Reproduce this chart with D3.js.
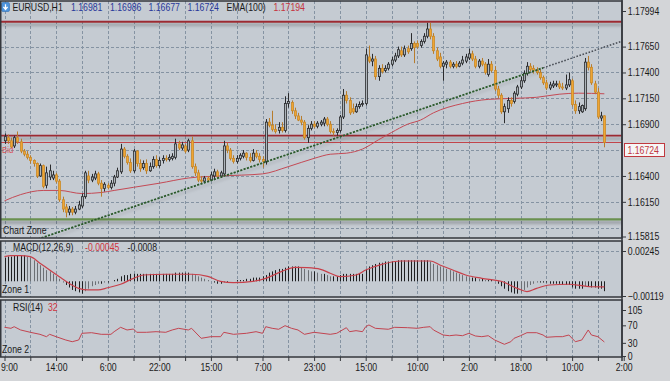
<!DOCTYPE html>
<html><head><meta charset="utf-8">
<script src="https://cdn.jsdelivr.net/npm/d3@7"></script>
<style>html,body{margin:0;padding:0;background:#d3d5d8;}svg{display:block;}</style>
</head><body><svg id="c" width="670" height="381"></svg>
<script>
// ---------- DATA ----------
const opens = [1.1674,1.1677,1.1674,1.1669,1.1677,1.1673,1.1664,1.1661,1.1658,1.1655,
1.1652,1.1640,1.1650,1.1631,1.1639,1.1638,1.1641,1.1635,1.1617,1.1610,
1.1605,1.1608,1.1605,1.1608,1.1611,1.1620,1.1640,1.1636,1.1638,1.1642,
1.1633,1.1628,1.1631,1.1629,1.1633,1.1639,1.1644,1.1666,1.1659,1.1653,
1.1645,1.1664,1.1652,1.1648,1.1652,1.1645,1.1649,1.1656,1.1650,1.1655,
1.1657,1.1656,1.1657,1.1658,1.1671,1.1667,1.1669,1.1665,1.1674,1.1649,
1.1643,1.1636,1.1635,1.1638,1.1636,1.1640,1.1644,1.1640,1.1642,1.1669,
1.1665,1.1657,1.1654,1.1657,1.1659,1.1662,1.1658,1.1655,1.1662,1.1659,
1.1656,1.1654,1.1692,1.1689,1.1685,1.1684,1.1687,1.1684,1.1710,1.1711,
1.1703,1.1698,1.1694,1.1692,1.1677,1.1686,1.1690,1.1688,1.1690,1.1691,
1.1695,1.1690,1.1683,1.1682,1.1684,1.1697,1.1718,1.1713,1.1705,1.1702,
1.1707,1.1709,1.1710,1.1755,1.1751,1.1753,1.1736,1.1744,1.1742,1.1744,
1.1748,1.1752,1.1756,1.1761,1.1757,1.1763,1.1763,1.1768,1.1768,1.1766,
1.1770,1.1775,1.1782,1.1775,1.1761,1.1755,1.1746,1.1748,1.1750,1.1746,
1.1748,1.1746,1.1749,1.1751,1.1754,1.1758,1.1753,1.1746,1.1751,1.1748,
1.1738,1.1748,1.1742,1.1724,1.1718,1.1702,1.1705,1.1713,1.1712,1.1719,
1.1726,1.1732,1.1739,1.1746,1.1744,1.1742,1.1740,1.1735,1.1730,1.1725,
1.1727,1.1728,1.1729,1.1726,1.1725,1.1728,1.1732,1.1709,1.1703,1.1702,
1.1705,1.1750,1.1745,1.1729,1.1721,1.1696,1.16981];
const highs = [1.1681,1.1680,1.1677,1.1679,1.1683,1.1676,1.1666,1.1664,1.1660,1.1656,
1.1653,1.1652,1.1651,1.1649,1.1651,1.1645,1.1643,1.1637,1.1620,1.1613,
1.1611,1.1610,1.1611,1.1616,1.1623,1.1645,1.1645,1.1642,1.1645,1.1644,
1.1636,1.1634,1.1633,1.1636,1.1641,1.1648,1.1671,1.1668,1.1661,1.1657,
1.1666,1.1665,1.1656,1.1655,1.1656,1.1653,1.1659,1.1660,1.1658,1.1660,
1.1660,1.1661,1.1662,1.1676,1.1674,1.1673,1.1671,1.1676,1.1678,1.1652,
1.1646,1.1640,1.1640,1.1640,1.1644,1.1647,1.1646,1.1645,1.1674,1.1672,
1.1667,1.1660,1.1660,1.1662,1.1665,1.1663,1.1662,1.1666,1.1665,1.1662,
1.1659,1.1695,1.1696,1.1703,1.1690,1.1692,1.1692,1.1717,1.1720,1.1713,
1.1706,1.1701,1.1698,1.1694,1.1689,1.1693,1.1693,1.1693,1.1694,1.1697,
1.1697,1.1693,1.1686,1.1686,1.1699,1.1724,1.1722,1.1716,1.1710,1.1710,
1.1712,1.1713,1.1763,1.1766,1.1758,1.1756,1.1747,1.1748,1.1747,1.1750,
1.1755,1.1759,1.1765,1.1765,1.1766,1.1766,1.1778,1.1770,1.1771,1.1772,
1.1778,1.1788,1.1788,1.1778,1.1764,1.1759,1.1751,1.1752,1.1752,1.1750,
1.1751,1.1751,1.1756,1.1758,1.1763,1.1761,1.1756,1.1753,1.1754,1.1750,
1.1753,1.1751,1.1746,1.1727,1.1720,1.1710,1.1716,1.1716,1.1722,1.1728,
1.1736,1.1742,1.1750,1.1749,1.1747,1.1745,1.1743,1.1737,1.1733,1.1731,
1.1732,1.1732,1.1732,1.1730,1.1738,1.1740,1.1734,1.1713,1.1711,1.1709,
1.1754,1.1756,1.1748,1.1732,1.1725,1.1702,1.16986];
const lows = [1.1671,1.1671,1.1667,1.1667,1.1671,1.1662,1.1659,1.1656,1.1652,1.1649,
1.1638,1.1639,1.1628,1.1628,1.1636,1.1636,1.1633,1.1615,1.1605,1.1600,
1.1602,1.1602,1.1603,1.1607,1.1609,1.1618,1.1633,1.1634,1.1636,1.1631,
1.1620,1.1625,1.1627,1.1627,1.1630,1.1638,1.1642,1.1657,1.1651,1.1643,
1.1643,1.1649,1.1644,1.1646,1.1642,1.1644,1.1647,1.1648,1.1648,1.1652,
1.1654,1.1654,1.1655,1.1656,1.1665,1.1665,1.1662,1.1663,1.1647,1.1640,
1.1634,1.1633,1.1633,1.1634,1.1636,1.1637,1.1638,1.1638,1.1640,1.1662,
1.1655,1.1652,1.1652,1.1655,1.1657,1.1655,1.1653,1.1654,1.1657,1.1653,
1.1648,1.1651,1.1687,1.1683,1.1681,1.1681,1.1682,1.1682,1.1706,1.1700,
1.1695,1.1693,1.1689,1.1675,1.1672,1.1684,1.1686,1.1686,1.1688,1.1688,
1.1688,1.1681,1.1679,1.1679,1.1682,1.1695,1.1710,1.1699,1.1700,1.1701,
1.1705,1.1707,1.1708,1.1749,1.1746,1.1733,1.1732,1.1739,1.1740,1.1742,
1.1746,1.1750,1.1754,1.1755,1.1755,1.1758,1.1761,1.1749,1.1763,1.1764,
1.1768,1.1773,1.1772,1.1758,1.1751,1.1744,1.1732,1.1744,1.1744,1.1744,
1.1744,1.1745,1.1747,1.1749,1.1752,1.1751,1.1744,1.1744,1.1746,1.1738,
1.1736,1.1740,1.1722,1.1715,1.1700,1.1691,1.1701,1.1707,1.1710,1.1717,
1.1724,1.1730,1.1737,1.1741,1.1739,1.1738,1.1733,1.1728,1.1723,1.1723,
1.1725,1.1726,1.1724,1.1723,1.1723,1.1726,1.1707,1.1700,1.1700,1.1701,
1.1703,1.1742,1.1728,1.1719,1.1695,1.1693,1.16677];
const closes = [1.1678,1.1674,1.1668,1.1677,1.1673,1.1664,1.1661,1.1658,1.1655,1.1652,
1.1640,1.1650,1.1630,1.1643,1.1645,1.1641,1.1635,1.1617,1.1608,1.1605,
1.1608,1.1605,1.1608,1.1612,1.1620,1.1643,1.1636,1.1639,1.1642,1.1633,
1.1628,1.1632,1.1629,1.1633,1.1639,1.1645,1.1666,1.1659,1.1653,1.1645,
1.1664,1.1652,1.1647,1.1652,1.1645,1.1649,1.1656,1.1650,1.1655,1.1657,
1.1656,1.1658,1.1659,1.1671,1.1667,1.1670,1.1664,1.1674,1.1649,1.1643,
1.1636,1.1635,1.1638,1.1636,1.1641,1.1644,1.1640,1.1643,1.1669,1.1665,
1.1657,1.1654,1.1657,1.1660,1.1662,1.1658,1.1655,1.1662,1.1659,1.1656,
1.1654,1.1692,1.1689,1.1685,1.1683,1.1687,1.1684,1.1710,1.1712,1.1703,
1.1698,1.1694,1.1692,1.1677,1.1686,1.1690,1.1688,1.1691,1.1692,1.1695,
1.1690,1.1683,1.1682,1.1684,1.1697,1.1718,1.1713,1.1701,1.1702,1.1707,
1.1709,1.1710,1.1757,1.1751,1.1753,1.1736,1.1744,1.1741,1.1744,1.1748,
1.1752,1.1756,1.1762,1.1757,1.1763,1.1760,1.1768,1.1764,1.1765,1.1770,
1.1775,1.1782,1.1775,1.1761,1.1753,1.1746,1.1749,1.1750,1.1746,1.1748,
1.1746,1.1749,1.1752,1.1755,1.1758,1.1753,1.1746,1.1751,1.1748,1.1740,
1.1748,1.1742,1.1724,1.1718,1.1702,1.1707,1.1713,1.1710,1.1720,1.1726,
1.1732,1.1739,1.1746,1.1743,1.1742,1.1740,1.1735,1.1730,1.1725,1.1728,
1.1729,1.1729,1.1726,1.1725,1.1728,1.1733,1.1709,1.1703,1.1707,1.1708,
1.1750,1.1745,1.1730,1.1721,1.1697,1.1698,1.16724];

// EMA(100) readings: [bar index, value]
const emaPoints = [[0,1.1616],[5,1.1622],[12,1.1626],[17,1.1626],[24,1.1623],[30,1.1624],[34,1.1626],[40,1.1629],[48,1.1633],[57,1.1638],[67,1.1640],[80,1.1642],[88,1.1649],[96,1.1657],[101,1.1661],[106,1.1662],[111,1.1666],[116,1.1675],[120,1.1682],[125,1.1690],[129,1.1694],[133,1.1701],[142,1.1710],[150,1.1714],[158,1.1715],[165,1.1716],[172,1.1719],[178,1.1720],[186,1.17194]];

const macdHist = [0.0019,0.0020,0.0020,0.0021,0.0021,0.0021,0.0021,0.0020,0.0019,0.0017,
0.0015,0.0013,0.0011,0.0009,0.0008,0.0006,0.0004,0.0002,-0.0001,-0.0003,
-0.0005,-0.0007,-0.0008,-0.0009,-0.0010,-0.0008,-0.0006,-0.0004,-0.0003,-0.0002,
-0.0002,-0.0001,-0.0001,0.0000,0.0001,0.0002,0.0004,0.0005,0.0005,0.0006,
0.0006,0.0006,0.0006,0.0006,0.0006,0.0006,0.0006,0.0006,0.0006,0.0006,
0.0006,0.0006,0.0006,0.0007,0.0007,0.0007,0.0007,0.0007,0.0006,0.0005,
0.0004,0.0003,0.0002,0.0001,0.0000,-0.0001,-0.0002,-0.0002,-0.0001,-0.0001,
0.0000,0.0000,0.0001,0.0001,0.0001,0.0002,0.0002,0.0003,0.0003,0.0003,
0.0004,0.0005,0.0007,0.0008,0.0009,0.0010,0.0010,0.0011,0.0012,0.0012,
0.0012,0.0012,0.0011,0.0010,0.0009,0.0008,0.0008,0.0007,0.0006,0.0006,
0.0005,0.0004,0.0004,0.0004,0.0005,0.0006,0.0006,0.0006,0.0006,0.0006,
0.0006,0.0006,0.0010,0.0012,0.0013,0.0014,0.0015,0.0015,0.0016,0.0016,
0.0016,0.0016,0.0017,0.0017,0.0017,0.0017,0.0017,0.0017,0.0017,0.0017,
0.0017,0.0017,0.0016,0.0014,0.0013,0.0012,0.0011,0.0010,0.0009,0.0008,
0.0007,0.0006,0.0005,0.0004,0.0003,0.0003,0.0003,0.0002,0.0002,0.0001,
0.0001,0.0001,0.0000,-0.0002,-0.0004,-0.0006,-0.0008,-0.0009,-0.0010,-0.0010,
-0.0009,-0.0007,-0.0005,-0.0003,-0.0002,-0.0001,-0.0001,-0.0001,-0.0001,-0.0002,
-0.0002,-0.0002,-0.0002,-0.0003,-0.0003,-0.0003,-0.0005,-0.0006,-0.0006,-0.0006,
-0.0004,-0.0004,-0.0005,-0.0005,-0.0006,-0.0006,-0.0008];
const macdSignal = [[0,0.0020],[2,0.00207],[5,0.00207],[8,0.0020],[11,0.00146],[14,0.00091],[17,0.00037],[20,-0.00016],[23,-0.00057],[26,-0.0007],[29,-0.0007],[32,-0.00052],[36,-0.00024],[40,0.00024],[43,0.00051],[50,0.00057],[58,0.00057],[63,0.0004],[67,0],[71,-0.0001],[77,0],[81,0.00024],[86,0.0008],[90,0.00113],[94,0.0011],[98,0.00097],[101,0.00065],[104,0.00037],[109,0.00051],[112,0.00091],[117,0.00137],[123,0.00164],[127,0.00164],[132,0.00164],[135,0.00132],[139,0.00091],[143,0.00051],[148,0.00024],[154,0],[159,-0.00057],[162,-0.00084],[165,-0.00057],[169,-0.0003],[175,-0.00024],[179,-0.00035],[182,-0.00044],[186,-0.00045]];

const rsiPoints = [[0,65.5],[2,63.2],[3,66.9],[5,59.4],[8,54.1],[11,49.5],[13,44.1],[14,49.5],[16,44.1],[19,36.5],[21,32.6],[23,36.5],[24,51.8],[27,53.2],[30,49.5],[33,49.5],[34,55.5],[36,65.5],[38,59.4],[40,61.6],[41,54.1],[44,54.1],[47,55.5],[50,54.1],[52,59.4],[54,63.2],[57,59.4],[58,63.2],[60,47.9],[61,40.4],[64,44.1],[67,44.1],[68,54.1],[71,49.5],[75,51.8],[78,55.5],[80,51.8],[81,66.9],[83,63.2],[85,61],[87,69.2],[89,63.2],[91,59.4],[93,49.5],[96,54.1],[101,49.5],[103,51.8],[106,64.6],[107,55.5],[109,57.8],[111,55.5],[112,66.9],[113,70.8],[115,63.2],[119,61],[121,65.5],[125,64.6],[128,63.2],[130,65.5],[132,66.9],[133,59.4],[136,47.9],[138,46.3],[140,47.9],[142,46.3],[144,51.8],[146,45.7],[148,44.1],[150,46.3],[152,36.5],[155,26.7],[157,32.6],[158,40.4],[160,46.3],[162,53.2],[165,53.2],[167,47.9],[168,42.7],[171,44.1],[173,44.1],[175,47.9],[177,32.6],[179,36.5],[181,59.4],[182,47.9],[184,44.1],[186,32]];

const priceTicks = [1.17994,1.17650,1.17400,1.17150,1.16900,1.16400,1.16150,1.15815];
const priceGrid = [1.17900,1.17650,1.17400,1.17150,1.16900,1.16650,1.16400,1.16150,1.15900];
const macdTicks = [0.00245,-0.00119];
const rsiTicks = [105,70,30,0];
const timeLabels = ["9:00","14:00","6:00","22:00","15:00","7:00","23:00","15:00","10:00","2:00","18:00","10:00","2:00"];
const barsPerLabel = 16, barsPerGrid = 8;
const redLevels = [1.1789, 1.1679];
const bidPrice = 1.16724;
const greenLevel = 1.1598;
const trend = {a:[10.4,1.1579], b:[191.2,1.1770], solidEnd:167};
const header = {sym:"EURUSD,H1", ohlc:["1.16981","1.16986","1.16677","1.16724"], ema:"EMA(100)", emaVal:"1.17194"};

// ---------- SETUP ----------
const svg = d3.select("#c");
const FONT = "'Liberation Sans', Arial, sans-serif";
const SX = 0.83;
const AXX = 622;
const P = {main:[1,238], macd:[241,297], rsi:[300,357]};
const bg = "#c5cbd2";

const xs = d3.scaleLinear().domain([0,192]).range([4.5,623.7]);
const yMain = d3.scaleLinear().domain([1.15815,1.17994]).range([236.5,11]);
const yMacd = d3.scaleLinear().domain([-0.00119,0.00245]).range([296,251]);
const yRsi = d3.scaleLinear().domain([0,105]).range([356,310]);

const defs = svg.append("defs");
Object.entries(P).forEach(([k,[t,b]])=>{
  defs.append("clipPath").attr("id","clip-"+k).append("rect").attr("x",1).attr("y",t).attr("width",AXX-1).attr("height",b-t);
});
function shadow(id, dy, blur, op){
  const f = defs.append("filter").attr("id",id).attr("filterUnits","userSpaceOnUse")
    .attr("x",0).attr("y",0).attr("width",670).attr("height",381);
  f.append("feGaussianBlur").attr("in","SourceAlpha").attr("stdDeviation",blur).attr("result","b");
  f.append("feOffset").attr("in","b").attr("dy",dy).attr("result","o");
  f.append("feComponentTransfer").attr("in","o").attr("result","o2").append("feFuncA").attr("type","linear").attr("slope",op);
  const fm = f.append("feMerge"); fm.append("feMergeNode").attr("in","o2"); fm.append("feMergeNode").attr("in","SourceGraphic");
}
shadow("shd",3,1.6,0.3);
shadow("shdT",3,1.8,0.18);

svg.append("rect").attr("width",670).attr("height",381).attr("fill","#d3d5d8");
Object.values(P).forEach(([t,b])=>{
  svg.append("rect").attr("x",1).attr("y",t).attr("width",AXX-1).attr("height",b-t).attr("fill",bg);
});

function label(sel,x,y,s,o={}){
  return sel.append("text").attr("transform",`translate(${x},${y}) scale(${o.sx||SX},1)`)
    .attr("text-anchor",o.anchor||"start").attr("dy","0.35em")
    .attr("font-family",FONT).attr("font-size",o.size||10.5).attr("fill",o.color||"#1a1a1a").text(s);
}

// ---------- GRID ----------
const gridIdx = d3.range(0,187,barsPerGrid);
Object.entries(P).forEach(([k,[t,b]])=>{
  svg.append("g").selectAll("line").data(gridIdx).join("line")
    .attr("x1",d=>Math.round(xs(d))+0.5).attr("x2",d=>Math.round(xs(d))+0.5)
    .attr("y1",t).attr("y2",b).attr("stroke","#8593a2").attr("stroke-dasharray","3,2").attr("stroke-width",1);
});
svg.append("g").selectAll("line").data(priceGrid).join("line")
  .attr("x1",1).attr("x2",AXX).attr("y1",d=>Math.round(yMain(d))+0.5).attr("y2",d=>Math.round(yMain(d))+0.5)
  .attr("stroke","#8593a2").attr("stroke-dasharray","3,2");
svg.append("line").attr("x1",1).attr("x2",AXX).attr("y1",Math.round(yMacd(0.00245))+0.5).attr("y2",Math.round(yMacd(0.00245))+0.5)
  .attr("stroke","#8593a2").attr("stroke-dasharray","3,2");

// ---------- MAIN PANEL ----------
const gm = svg.append("g").attr("clip-path","url(#clip-main)");
label(gm,2,150,"Bid",{size:9.5,color:"#d8585c"});
// levels
gm.selectAll("line.red").data(redLevels).join("line").attr("class","red")
  .attr("x1",1).attr("x2",AXX).attr("y1",d=>yMain(d)).attr("y2",d=>yMain(d))
  .attr("stroke","#9c2b31").attr("stroke-width",1.8).attr("filter","url(#shd)");
gm.append("line").attr("x1",1).attr("x2",AXX).attr("y1",yMain(bidPrice)).attr("y2",yMain(bidPrice))
  .attr("stroke","#c2454b").attr("stroke-width",1.1);
gm.append("line").attr("x1",1).attr("x2",AXX).attr("y1",yMain(greenLevel)).attr("y2",yMain(greenLevel))
  .attr("stroke","#6a9150").attr("stroke-width",2.4).attr("filter","url(#shd)");
// EMA
gm.append("path").datum(emaPoints)
  .attr("d",d3.line().x(d=>xs(d[0])).y(d=>yMain(d[1])).curve(d3.curveMonotoneX))
  .attr("fill","none").attr("stroke","#c44a55").attr("stroke-width",1);
// candles
const idx = d3.range(closes.length);
const cg = gm.append("g");
cg.selectAll("line").data(idx).join("line")
  .attr("x1",i=>Math.round(xs(i))+0.5).attr("x2",i=>Math.round(xs(i))+0.5)
  .attr("y1",i=>yMain(highs[i])).attr("y2",i=>yMain(lows[i]))
  .attr("stroke",i=>closes[i]>=opens[i]?"#2a2b2d":"#b77c2c").attr("stroke-width",1);
cg.selectAll("rect").data(idx).join("rect")
  .attr("x",i=>Math.round(xs(i))-0.5).attr("width",2)
  .attr("y",i=>yMain(Math.max(opens[i],closes[i])))
  .attr("height",i=>Math.max(0.8,Math.abs(yMain(opens[i])-yMain(closes[i]))))
  .attr("fill",i=>closes[i]>=opens[i]?"#aeb4ba":"#f0a533")
  .attr("stroke",i=>closes[i]>=opens[i]?"#2a2b2d":"#c98a2a").attr("stroke-width",0.8);
// trendline
const tl = (i)=> trend.a[1] + (trend.b[1]-trend.a[1])*(i-trend.a[0])/(trend.b[0]-trend.a[0]);
gm.append("line").attr("x1",xs(trend.a[0])).attr("y1",yMain(trend.a[1]))
  .attr("x2",xs(trend.solidEnd)).attr("y2",yMain(tl(trend.solidEnd)))
  .attr("stroke","#2c5a2c").attr("stroke-width",1.8).attr("stroke-dasharray","2.2,1.3").attr("filter","url(#shdT)");
gm.append("line").attr("x1",xs(trend.solidEnd)).attr("y1",yMain(tl(trend.solidEnd)))
  .attr("x2",xs(trend.b[0])).attr("y2",yMain(trend.b[1]))
  .attr("stroke","#4a4f57").attr("stroke-width",1.5).attr("stroke-dasharray","1.6,1.6");
// header
gm.append("rect").attr("x",1.5).attr("y",2.5).attr("width",8).attr("height",9).attr("rx",1.5).attr("fill","#4d93db").attr("stroke","#2f6fb5").attr("stroke-width",0.6);
gm.append("path").attr("d","M5.5,4.2 L5.5,8.5 M3.4,6.8 L5.5,9.4 L7.6,6.8").attr("stroke","#fff").attr("stroke-width",1.3).attr("fill","none");
label(gm,12.5,7.5,header.sym,{size:10.5});
const hx=[71,110,148.5,187.5];
header.ohlc.forEach((s,k)=>label(gm,hx[k],7.5,s,{size:10.5,color:"#28389a"}));
label(gm,226.5,7.5,header.ema,{size:10.5});
label(gm,273.5,7.5,header.emaVal,{size:10.5,color:"#c5343c"});
label(gm,3,230,"Chart Zone",{size:10.5});

// ---------- MACD ----------
const gM = svg.append("g").attr("clip-path","url(#clip-macd)");
gM.selectAll("line").data(idx).join("line")
  .attr("x1",i=>Math.round(xs(i))+0.5).attr("x2",i=>Math.round(xs(i))+0.5)
  .attr("y1",yMacd(0)).attr("y2",i=>yMacd(macdHist[i]))
  .attr("stroke",i=>{const p=i>0?macdHist[i-1]:macdHist[i];return Math.abs(macdHist[i])>=Math.abs(p)?"#1d1e20":"#6c7075";})
  .attr("stroke-width",1);
gM.append("path").datum(macdSignal)
  .attr("d",d3.line().x(d=>xs(d[0])).y(d=>yMacd(d[1])).curve(d3.curveMonotoneX))
  .attr("fill","none").attr("stroke","#c8404a").attr("stroke-width",1.2);
label(gM,13,247,"MACD(12,26,9)",{size:10.5});
label(gM,85,247,"-0.00045",{size:10.5,color:"#d0343c"});
label(gM,127.5,247,"-0.0008",{size:10.5});
label(gM,2,289.5,"Zone 1",{size:10.5});

// ---------- RSI ----------
const gR = svg.append("g").attr("clip-path","url(#clip-rsi)");
gR.append("path").datum(rsiPoints)
  .attr("d",d3.line().x(d=>xs(d[0])).y(d=>yRsi(d[1])))
  .attr("fill","none").attr("stroke","#c24450").attr("stroke-width",1);
label(gR,13,307,"RSI(14)",{size:10.5});
label(gR,48,307,"32",{size:10.5,color:"#d0343c"});
label(gR,2,349.5,"Zone 2",{size:10.5});

// ---------- FRAMES ----------
Object.values(P).forEach(([t,b])=>{
  svg.append("rect").attr("x",0.75).attr("y",t).attr("width",AXX-0.75).attr("height",b-t)
    .attr("fill","none").attr("stroke","#34373c").attr("stroke-width",1.5);
});
svg.append("line").attr("x1",AXX).attr("x2",AXX).attr("y1",0).attr("y2",361).attr("stroke","#34373c").attr("stroke-width",1.5);

// ---------- AXES ----------
function styleAxis(g){
  g.select(".domain").remove();
  g.selectAll(".tick line").attr("stroke","#34373c");
  g.selectAll(".tick text").attr("font-family",FONT).attr("font-size",10.5).attr("fill","#1a1a1a")
    .attr("transform",`scale(${SX},1)`);
}
svg.append("g").attr("transform",`translate(${AXX},0)`)
  .call(d3.axisRight(yMain).tickValues(priceTicks).tickFormat(d3.format(".5f")).tickSize(4).tickPadding(3)).call(styleAxis);
svg.append("g").attr("transform",`translate(${AXX},0)`)
  .call(d3.axisRight(yMacd).tickValues(macdTicks).tickFormat(d3.format(".5f")).tickSize(4).tickPadding(3)).call(styleAxis);
svg.append("g").attr("transform",`translate(${AXX},0)`)
  .call(d3.axisRight(yRsi).tickValues(rsiTicks).tickFormat(d3.format("d")).tickSize(4).tickPadding(3)).call(styleAxis);
const xAx = svg.append("g").attr("transform",`translate(0,${P.rsi[1]})`)
  .call(d3.axisBottom(xs).tickValues(d3.range(0,193,barsPerGrid))
    .tickFormat(d=> d%barsPerLabel===0 ? timeLabels[d/barsPerLabel] : "").tickSize(4).tickPadding(3))
  .call(styleAxis);
// keep first time label inside the picture
xAx.selectAll(".tick text").filter(d=>d===0).attr("text-anchor","start").attr("x",-4.5/SX+0.5);

// bid price tag
svg.append("rect").attr("x",624.5).attr("y",143.5).attr("width",40).attr("height",13)
  .attr("fill","#f6f6f6").attr("stroke","#c0393f").attr("stroke-width",1);
label(svg,627.5,150,d3.format(".5f")(bidPrice),{size:10.5,color:"#c0393f"});
</script></body></html>
